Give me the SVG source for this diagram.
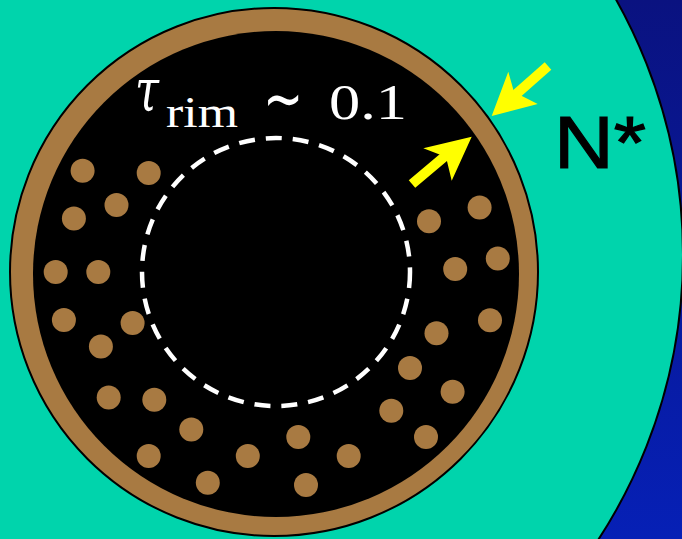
<svg xmlns="http://www.w3.org/2000/svg" width="682" height="539" viewBox="0 0 682 539">
<defs>
<linearGradient id="bg" x1="0" y1="0" x2="0" y2="1">
<stop offset="0" stop-color="#0a1280"/>
<stop offset="1" stop-color="#0620b6"/>
</linearGradient>
<style>
.dot{fill:#a87a42}
.arr{fill:#ffff00}
.lbl{fill:#ffffff;font-family:"Liberation Serif","DejaVu Serif",serif}
</style>
</defs>
<rect x="0" y="0" width="682" height="539" fill="url(#bg)"/>
<circle cx="163" cy="255" r="520" fill="#00d4ac" stroke="#000" stroke-width="2"/>
<g id="star">
<circle cx="274" cy="272" r="264" fill="#a87a42" stroke="#000" stroke-width="2"/>
<circle cx="276" cy="274" r="243" fill="#000"/>
<circle cx="276" cy="272" r="134" fill="none" stroke="#fff" stroke-width="4.5" stroke-dasharray="16 11"/>
</g>
<g id="dots">
<circle class="dot" cx="82.6" cy="170.8" r="12"/>
<circle class="dot" cx="148.7" cy="172.9" r="12"/>
<circle class="dot" cx="116.5" cy="205" r="12"/>
<circle class="dot" cx="73.9" cy="218.6" r="12"/>
<circle class="dot" cx="55.7" cy="272" r="12"/>
<circle class="dot" cx="98.3" cy="272" r="12"/>
<circle class="dot" cx="63.9" cy="320" r="12"/>
<circle class="dot" cx="132.6" cy="323" r="12"/>
<circle class="dot" cx="100.9" cy="346.4" r="12"/>
<circle class="dot" cx="108.7" cy="397.6" r="12"/>
<circle class="dot" cx="154.3" cy="399.7" r="12"/>
<circle class="dot" cx="191.3" cy="429.6" r="12"/>
<circle class="dot" cx="148.7" cy="456" r="12"/>
<circle class="dot" cx="207.8" cy="482.8" r="12"/>
<circle class="dot" cx="247.8" cy="456" r="12"/>
<circle class="dot" cx="298.3" cy="437" r="12"/>
<circle class="dot" cx="306" cy="485" r="12"/>
<circle class="dot" cx="348.7" cy="456" r="12"/>
<circle class="dot" cx="391.3" cy="410.7" r="12"/>
<circle class="dot" cx="410" cy="368" r="12"/>
<circle class="dot" cx="426" cy="437" r="12"/>
<circle class="dot" cx="452.6" cy="391.8" r="12"/>
<circle class="dot" cx="436.5" cy="333.3" r="12"/>
<circle class="dot" cx="490" cy="320.3" r="12"/>
<circle class="dot" cx="455.2" cy="269" r="12"/>
<circle class="dot" cx="497.8" cy="258.4" r="12"/>
<circle class="dot" cx="429" cy="221.3" r="12"/>
<circle class="dot" cx="479.6" cy="207.6" r="12"/>
</g>
<g id="connectors">
<g id="arrow-in">
<line x1="548" y1="66" x2="514" y2="96" stroke="#ffff00" stroke-width="10"/>
<polygon class="arr" points="491.7,116 508.3,71.7 514,92 537.7,104"/>
</g>
<g id="arrow-out">
<line x1="412" y1="184" x2="450" y2="152" stroke="#ffff00" stroke-width="10"/>
<polygon class="arr" points="471.7,136.7 451.7,180.7 446,157 423.3,148.3"/>
</g>
</g>
<g id="label-tau">
<text x="135" y="111" font-family="DejaVu Serif, serif" font-size="60" font-style="italic" fill="#fff" textLength="24" lengthAdjust="spacingAndGlyphs">τ</text>
<text class="lbl" x="166" y="127" font-size="44" textLength="72" lengthAdjust="spacingAndGlyphs">rim</text>
<text x="263" y="121" font-family="Liberation Serif, serif" font-size="66" fill="#fff" textLength="40" lengthAdjust="spacingAndGlyphs">∼</text>
<text class="lbl" x="329" y="119" font-size="50" textLength="78" lengthAdjust="spacingAndGlyphs">0.1</text>
</g>
<g id="label-nstar">
<text x="554" y="168" font-family="Liberation Sans, Arial, sans-serif" font-size="75" fill="#000" stroke="#000" stroke-width="1.2" textLength="92" lengthAdjust="spacingAndGlyphs">N*</text>
</g>
</svg>
